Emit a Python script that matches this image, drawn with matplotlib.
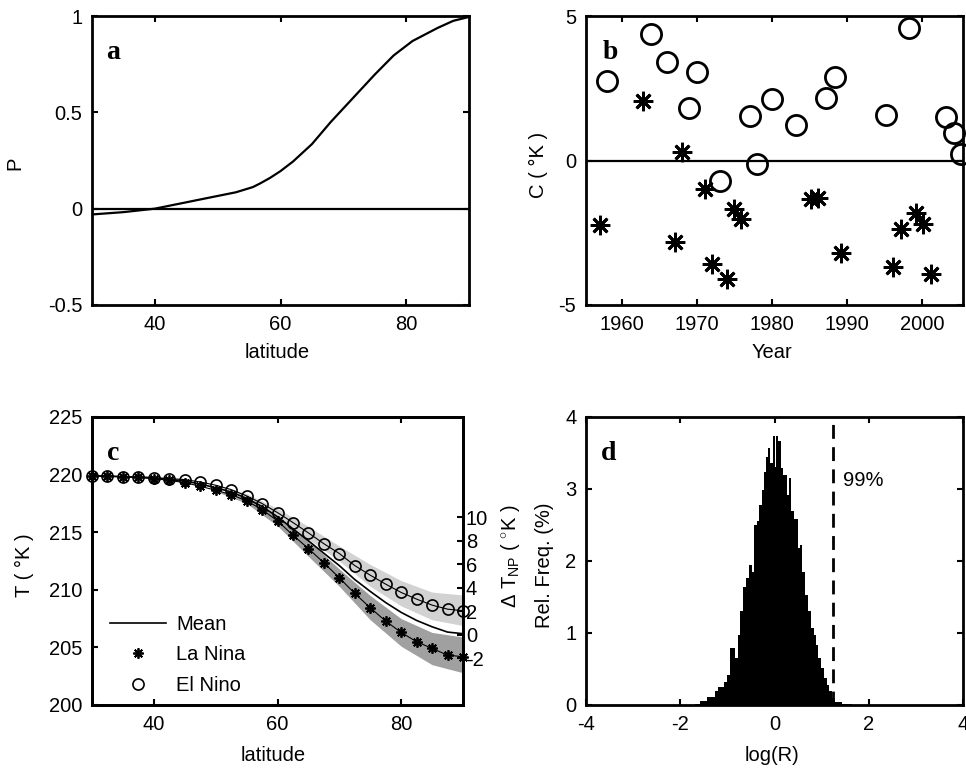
import numpy as np
import matplotlib
matplotlib.use('Agg')
import matplotlib.pyplot as plt
from matplotlib.lines import Line2D

plt.rcParams['font.family'] = ['Liberation Sans', 'DejaVu Sans']
plt.rcParams['mathtext.fontset'] = 'custom'
plt.rcParams['mathtext.rm'] = 'Liberation Sans'
plt.rcParams['mathtext.it'] = 'Liberation Sans'
plt.rcParams['axes.unicode_minus'] = False

# --- panel a: pattern P vs latitude
lat_a = [30, 35, 40, 45, 50, 52.9, 55.6, 56.7, 58.3, 60, 62, 65, 68, 71.5, 75,
         78, 81, 85, 87.5, 90]
p_a = [-0.03, -0.018, 0.0, 0.033, 0.066, 0.085, 0.112, 0.13, 0.159, 0.195,
       0.245, 0.335, 0.45, 0.573, 0.696, 0.795, 0.87, 0.938, 0.975, 0.995]

# --- panel b: coefficient C by year
el_year = [1958.0, 1963.8, 1966.0, 1970.0, 1968.9, 1973.0, 1977.1, 1978.0, 1980.0,
           1983.1, 1987.1, 1988.3, 1995.1, 1998.2, 2003.1, 2004.2, 2005.1]
el_c = [2.76, 4.37, 3.42, 3.05, 1.83, -0.70, 1.54, -0.13, 2.13,
        1.22, 2.17, 2.90, 1.57, 4.60, 1.49, 0.96, 0.21]
la_year = [1957.0, 1962.8, 1967.0, 1968.0, 1971.0, 1972.0, 1974.0, 1974.9, 1975.9,
           1985.2, 1986.1, 1989.1, 1996.1, 1997.2, 1999.1, 2000.1, 2001.2]
la_c = [-2.23, 2.07, -2.83, 0.28, -0.99, -3.59, -4.11, -1.68, -2.02,
        -1.34, -1.29, -3.19, -3.67, -2.37, -1.83, -2.20, -3.93]

# --- panel c: temperature profiles
lat_c = [30, 32.5, 35, 37.5, 40, 42.5, 45, 47.5, 50, 52.5, 55, 57.5, 60,
         62.5, 65, 67.5, 70, 72.5, 75, 77.5, 80, 82.5, 85, 87.5, 90]
t_el = [219.88, 219.88, 219.82, 219.8, 219.74, 219.65, 219.57, 219.36, 219.08,
        218.7, 218.15, 217.49, 216.7, 215.84, 214.94, 214.0, 213.15, 212.1,
        211.27, 210.49, 209.77, 209.19, 208.67, 208.32, 208.18]
t_la = [219.88, 219.86, 219.8, 219.75, 219.65, 219.5, 219.3, 218.99, 218.64,
        218.27, 217.72, 216.97, 215.98, 214.74, 213.58, 212.34, 211.04, 209.68,
        208.44, 207.28, 206.3, 205.49, 204.91, 204.33, 204.19]
t_mean = [219.88, 219.87, 219.81, 219.78, 219.7, 219.58, 219.44, 219.18, 218.86,
          218.49, 217.94, 217.23, 216.34, 215.29, 214.26, 213.17, 212.1, 210.89,
          209.86, 208.89, 208.04, 207.34, 206.79, 206.33, 206.19]
band_lat = [50, 55, 60, 65, 70, 75, 80, 85, 90]
el_upper = [219.15, 218.35, 217.05, 215.5, 213.8, 212.2, 210.8, 209.8, 209.55]
el_lower = [219.0, 217.95, 216.35, 214.4, 212.5, 210.3, 208.6, 207.4, 206.9]
la_upper = [218.7, 217.95, 216.4, 214.3, 211.8, 209.5, 207.5, 206.3, 205.9]
la_lower = [218.55, 217.5, 215.55, 212.9, 210.3, 207.4, 205.1, 203.5, 202.8]
dt_ticks = [-2, 0, 2, 4, 6, 8, 10]

# --- panel d: histogram of log(R)
hist_edges = [-1.69, -1.58, -1.44, -1.26, -1.19, -1.08, -1.01, -0.94, -0.84, -0.78,
              -0.73, -0.66, -0.61, -0.55, -0.48, -0.43, -0.38, -0.33, -0.27, -0.22,
              -0.18, -0.13, -0.09, -0.04, 0.0, 0.03, 0.08, 0.13, 0.19, 0.26,
              0.31, 0.35, 0.42, 0.49, 0.54, 0.59, 0.65, 0.71, 0.77, 0.83,
              0.88, 0.93, 0.99, 1.05, 1.11, 1.16, 1.22, 1.29, 1.43, 1.64]
hist_freq = [0.01, 0.05, 0.11, 0.20, 0.25, 0.32, 0.42, 0.79, 0.65, 0.97,
             1.30, 1.64, 1.76, 1.94, 1.85, 2.50, 2.55, 2.78, 2.99, 3.24,
             3.45, 3.57, 3.36, 3.73, 3.31, 3.73, 3.66, 3.29, 3.19, 2.92,
             3.15, 2.69, 2.59, 2.18, 2.22, 1.85, 1.53, 1.30, 1.07, 0.97,
             0.83, 0.65, 0.51, 0.37, 0.28, 0.19, 0.10, 0.04, 0.02]
sig99 = 1.25

FS = 14.5
W, H = 966, 771


def box(x0, y0, x1, y1):
    # pixel box (left, top, right, bottom) -> figure fraction
    return [x0 / W, 1 - y1 / H, (x1 - x0) / W, (y1 - y0) / H]


def style(ax):
    for s in ax.spines.values():
        s.set_linewidth(2)
    ax.tick_params(direction='in', length=4, width=1.5, top=True, right=True,
                   labelsize=FS, pad=7)


def place_labels(ax, xl, yl):
    ax.xaxis.set_label_coords(*xl)
    ax.xaxis.label.set_va('center')
    ax.yaxis.set_label_coords(*yl)
    ax.yaxis.label.set_va('center')


def letter(ax, s, x, y):
    ax.text(x, y, s, transform=ax.transAxes, ha='center', va='center',
            fontsize=20, fontweight='bold', family='Liberation Serif')


fig = plt.figure(figsize=(9.66, 7.71), dpi=100)

# a
ax = fig.add_axes(box(92, 16, 469, 305))
ax.plot(lat_a, p_a, color='black', lw=1.6)
ax.axhline(0, color='black', lw=1.6)
ax.set_xlim(30, 90)
ax.set_ylim(-0.5, 1)
ax.set_xticks([40, 60, 80])
ax.set_yticks([-0.5, 0, 0.5, 1], ['-0.5', '0', '0.5', '1'])
style(ax)
ax.set_xlabel('latitude', fontsize=FS)
ax.set_ylabel('P', fontsize=FS)
place_labels(ax, (0.491, -0.166), (-0.204, 0.491))
letter(ax, 'a', 0.056, 0.872)

# b
ax = fig.add_axes(box(586, 16, 963, 305))
ax.axhline(0, color='black', lw=1.6)
ax.plot(el_year, el_c, 'o', ms=14.5, mfc='none', mec='black', mew=2, clip_on=False)
ax.plot(la_year, la_c, marker=(8, 2, 0), ls='none', ms=14, mec='black', mew=2,
        clip_on=False)
ax.set_xlim(1955.2, 2005.4)
ax.set_ylim(-5, 5)
ax.set_xticks([1960, 1970, 1980, 1990, 2000])
ax.set_yticks([-5, 0, 5])
style(ax)
ax.set_xlabel('Year', fontsize=FS)
ax.set_ylabel('C ( °K )', fontsize=FS)
place_labels(ax, (0.493, -0.166), (-0.125, 0.484))
letter(ax, 'b', 0.064, 0.875)

# c
ax = fig.add_axes(box(92, 417, 463, 705))
ax.fill_between(band_lat, el_lower, el_upper, color='#d2d2d2', lw=0)
ax.fill_between(band_lat, la_lower, la_upper, color='#a0a0a0', lw=0)
ax.plot(lat_c, t_mean, color='black', lw=1.2)
ax.plot(lat_c, t_la, color='black', lw=0.8)
ax.plot(lat_c, t_el, color='black', lw=0.8)
ax.plot(lat_c, t_la, marker=(8, 2, 0), ls='none', ms=7.5, mec='black', mew=1.3,
        clip_on=False)
ax.plot(lat_c, t_el, 'o', ms=8, mfc='none', mec='black', mew=1.2, clip_on=False)
ax.set_xlim(30, 90)
ax.set_ylim(200, 225)
ax.set_xticks([40, 60, 80])
ax.set_yticks([200, 205, 210, 215, 220, 225])
style(ax)
ax.tick_params(right=False)
ax.set_xlabel('latitude', fontsize=FS)
ax.set_ylabel('T ( °K )', fontsize=FS)
place_labels(ax, (0.488, -0.174), (-0.183, 0.486))
letter(ax, 'c', 0.057, 0.875)
handles = [Line2D([], [], color='black', lw=1.2),
           Line2D([], [], marker=(8, 2, 0), ls='none', ms=7.5, mec='black', mew=1.3),
           Line2D([], [], marker='o', ls='none', ms=8, mfc='none', mec='black', mew=1.2)]
ax.legend(handles, ['Mean', 'La Nina', 'El Nino'], loc='lower left',
          bbox_to_anchor=(0.048, 0.035), frameon=False, fontsize=FS,
          handlelength=2.8, handletextpad=0.5, labelspacing=0.57,
          borderpad=0, borderaxespad=0)

axt = ax.twinx()
axt.set_ylim(-5.96, 18.55)
axt.set_yticks(dt_ticks)
for s in axt.spines.values():
    s.set_linewidth(2)
axt.tick_params(direction='in', length=4, width=1.5, labelsize=FS, pad=2)
axt.set_ylabel(r'$\Delta$ T$_{\rm NP}$ ( $^{\circ}$K )', fontsize=FS)
axt.yaxis.set_label_coords(1.128, 0.517)
axt.yaxis.label.set_va('center')

# d
ax = fig.add_axes(box(586, 417, 963, 705))
ax.stairs(hist_freq, hist_edges, fill=True, color='black')
ax.axvline(sig99, color='black', lw=2, dashes=(5, 3))
ax.text(1.46, 3.125, '99%', fontsize=FS, ha='left', va='center')
ax.set_xlim(-4, 4)
ax.set_ylim(0, 4)
ax.set_xticks([-4, -2, 0, 2, 4])
ax.set_yticks([0, 1, 2, 3, 4])
style(ax)
ax.set_xlabel('log(R)', fontsize=FS)
ax.set_ylabel('Rel. Freq. (%)', fontsize=FS)
place_labels(ax, (0.493, -0.174), (-0.111, 0.486))
letter(ax, 'd', 0.061, 0.875)

fig.savefig('out.png', dpi=100)
